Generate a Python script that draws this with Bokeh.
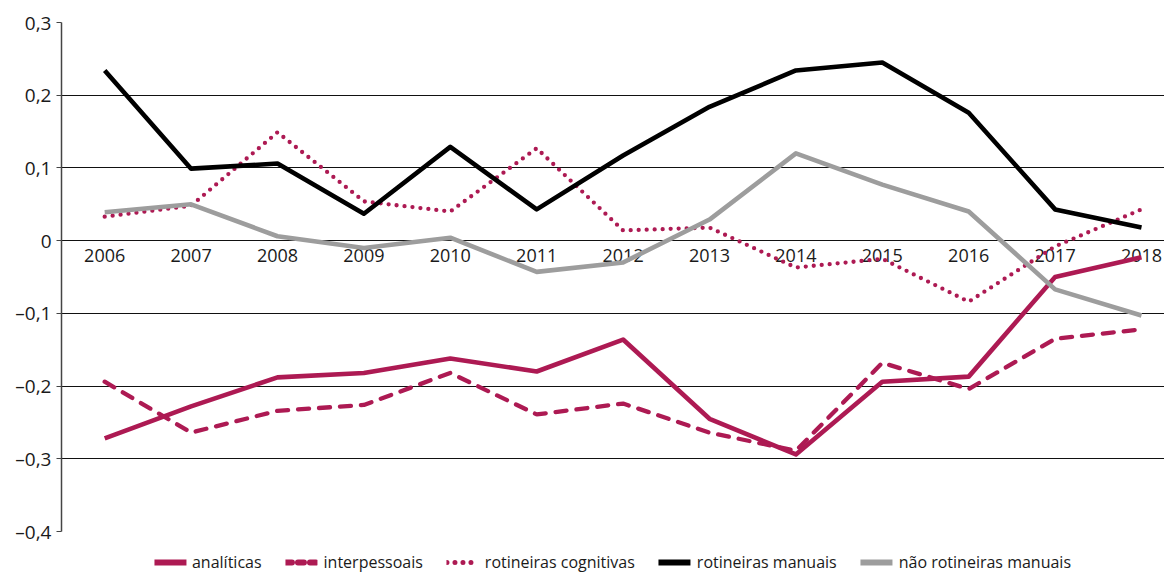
from bokeh.plotting import figure
from bokeh.models import Legend, LegendItem, FixedTicker, Range1d
from bokeh.layouts import column
from bokeh.embed import file_html
from bokeh.resources import INLINE
from bokeh.core.properties import value

years = [2006, 2007, 2008, 2009, 2010, 2011, 2012, 2013, 2014, 2015, 2016, 2017, 2018]
year_labels = [str(y) for y in years]
analiticas = [-0.272, -0.228, -0.188, -0.182, -0.162, -0.180, -0.136, -0.245, -0.294, -0.194, -0.187, -0.050, -0.023]
interpessoais = [-0.194, -0.264, -0.234, -0.226, -0.182, -0.239, -0.224, -0.264, -0.289, -0.168, -0.204, -0.135, -0.122]
rot_cognitivas = [0.033, 0.048, 0.149, 0.054, 0.040, 0.127, 0.014, 0.018, -0.037, -0.025, -0.084, -0.008, 0.043]
rot_manuais = [0.234, 0.099, 0.106, 0.037, 0.129, 0.043, 0.117, 0.184, 0.234, 0.245, 0.176, 0.043, 0.018]
nao_rot_manuais = [0.039, 0.050, 0.006, -0.010, 0.004, -0.043, -0.030, 0.029, 0.120, 0.077, 0.040, -0.067, -0.103]
series_names = ["anal\u00edticas", "interpessoais", "rotineiras cognitivas",
                "rotineiras manuais", "n\u00e3o rotineiras manuais"]

y_ticks = [-0.4, -0.3, -0.2, -0.1, 0.0, 0.1, 0.2, 0.3]
y_labels = ["\u20130,4", "\u20130,3", "\u20130,2", "\u20130,1", "0", "0,1", "0,2", "0,3"]

MAG = "#AD1A53"
GRAY = "#9D9D9D"
FONT = "Open Sans"

W = 1164
MAIN_H = 550
LEG_H = 24
TOP, LEFT = 22, 61
FRAME_H = 509
p = figure(width=W, height=MAIN_H, output_backend="svg", toolbar_location=None,
           x_range=Range1d(2005.5, 2005.5 + (W - LEFT) / 86.4), y_range=Range1d(-0.4, 0.3),
           min_border_left=LEFT, min_border_right=0, min_border_top=TOP,
           min_border_bottom=MAIN_H - TOP - FRAME_H)
p.outline_line_color = None
p.background_fill_color = "white"

p.xgrid.visible = False
p.ygrid.ticker = FixedTicker(ticks=y_ticks)
p.ygrid.grid_line_color = "#111111"
p.ygrid.grid_line_width = 1.2

p.yaxis.ticker = FixedTicker(ticks=y_ticks)
p.yaxis.major_label_overrides = {t: l for t, l in zip(y_ticks, y_labels)}
p.yaxis.major_label_text_font = FONT
p.yaxis.major_label_text_font_size = "19px"
p.yaxis.major_label_text_color = "#1a1a1a"
p.yaxis.axis_line_color = "#444444"
p.yaxis.axis_line_width = 1.5
p.yaxis.major_tick_line_color = "#444444"
p.yaxis.major_tick_in = 0
p.yaxis.major_tick_out = 5
p.yaxis.minor_tick_line_color = None
p.yaxis.major_label_standoff = 5

p.xaxis.visible = False

p.text(x=years, y=[0.0] * len(years), text=year_labels, text_align="center",
       text_baseline="top", y_offset=8, text_font=value(FONT),
       text_font_size="18px", text_color="#1a1a1a")

styles = [
    dict(line_color=MAG, line_width=4.6, line_join="round"),
    dict(line_color=MAG, line_width=4.3, line_dash="11 10", line_cap="round"),
    dict(line_color=MAG, line_width=4.3, line_dash="0 8", line_cap="round"),
    dict(line_color="black", line_width=4.6, line_join="round"),
    dict(line_color=GRAY, line_width=4.6, line_join="round"),
]
series = [analiticas, interpessoais, rot_cognitivas, rot_manuais, nao_rot_manuais]
for s, st in zip(series, styles):
    p.line(years, s, **st)

# legend strip (its sample lines lie outside the visible range)
lf = figure(width=W, height=LEG_H, output_backend="svg", toolbar_location=None,
            x_range=Range1d(0, 1), y_range=Range1d(0, 1),
            min_border_left=0, min_border_right=0, min_border_top=0, min_border_bottom=0)
lf.outline_line_color = None
lf.axis.visible = False
lf.grid.visible = False

leg_styles = [
    dict(line_color=MAG, line_width=6, line_cap="round"),
    dict(line_color=MAG, line_width=6, line_dash="6 6", line_cap="round"),
    dict(line_color=MAG, line_width=5, line_dash="0 8", line_cap="round"),
    dict(line_color="black", line_width=6, line_cap="round"),
    dict(line_color=GRAY, line_width=6, line_cap="round"),
]
items = []
for name, st in zip(series_names, leg_styles):
    r = lf.line([-5, -4], [-5, -5], **st)
    items.append(LegendItem(label=name, renderers=[r]))

legend = Legend(items=items, orientation="horizontal", location="center")
legend.label_text_font = FONT
legend.label_text_font_size = "16px"
legend.label_text_color = "#1a1a1a"
legend.glyph_width = 32
legend.glyph_height = 18
legend.label_standoff = 6
legend.spacing = 24
legend.padding = 0
legend.margin = 0
legend.border_line_color = None
legend.background_fill_alpha = 0
lf.add_layout(legend, "center")

open("out.html", "w").write(file_html(column(p, lf, spacing=0), INLINE))
